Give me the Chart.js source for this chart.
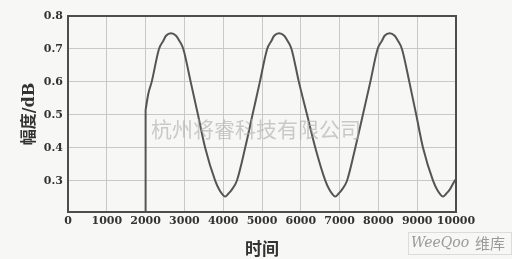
<!DOCTYPE html>
<html lang="zh">
<head>
    <meta charset="UTF-8">
    <title>幅度-时间</title>
    <script src="https://cdn.jsdelivr.net/npm/chart.js"></script>
    <style>
        body { margin: 0; background: #f7f7f5; }
        canvas { display: block; }
    </style>
</head>
<body>
    <canvas id="waveChart" width="512" height="259"></canvas>

    <script>
        // 读自原图的曲线点 (时间, 幅度/dB)
        const timePoints = [2000, 2000, 2070, 2157, 2345, 2457, 2526, 2655, 2785, 2869, 2972, 3162, 3350, 3535, 3793, 3896, 3965, 4050, 4136, 4223, 4352, 4566, 4755, 4945, 5133, 5245, 5313, 5443, 5573, 5657, 5760, 5950, 6162, 6374, 6632, 6735, 6804, 6889, 6975, 7062, 7191, 7405, 7600, 7792, 7980, 8092, 8160, 8290, 8420, 8504, 8607, 8797, 8975, 9150, 9408, 9511, 9580, 9665, 9751, 9838, 9967, 10000];
        const amplitude = [0.205, 0.515, 0.564, 0.60, 0.70, 0.725, 0.740, 0.748, 0.740, 0.725, 0.70, 0.60, 0.50, 0.40, 0.30, 0.273, 0.261, 0.252, 0.261, 0.273, 0.30, 0.40, 0.50, 0.60, 0.70, 0.725, 0.740, 0.748, 0.740, 0.725, 0.70, 0.60, 0.50, 0.40, 0.30, 0.273, 0.261, 0.252, 0.261, 0.273, 0.30, 0.40, 0.50, 0.60, 0.70, 0.725, 0.740, 0.748, 0.740, 0.725, 0.70, 0.60, 0.50, 0.40, 0.30, 0.273, 0.261, 0.252, 0.261, 0.273, 0.30, 0.305];

        const xTicks = [0, 1000, 2000, 3000, 4000, 5000, 6000, 7000, 8000, 9000, 10000];
        const yTicks = [0.3, 0.4, 0.5, 0.6, 0.7, 0.8];

        const xTitle = '时间';
        const yTitle = '幅度/dB';
        const watermark = '杭州将睿科技有限公司';
        const logoLatin = 'WeeQoo';
        const logoCjk = '维库';

        const tickFont = { family: '"DejaVu Serif", serif', size: 11, weight: 'bold' };

        const points = timePoints.map((t, i) => ({ x: t, y: amplitude[i] }));

        // 边框 + 水印
        const framePlugin = {
            id: 'frame',
            afterDraw(chart) {
                const ctx = chart.ctx;
                const a = chart.chartArea;
                ctx.save();
                ctx.strokeStyle = '#4d4d4d';
                ctx.lineWidth = 2;
                ctx.strokeRect(a.left, a.top, a.right - a.left, a.bottom - a.top);

                ctx.fillStyle = 'rgba(170,170,170,0.6)';
                ctx.font = '21px "Noto Sans CJK SC"';
                ctx.textAlign = 'center';
                ctx.textBaseline = 'middle';
                ctx.fillText(watermark, 256, 129);

                ctx.strokeStyle = '#dcdcdc';
                ctx.lineWidth = 1;
                ctx.strokeRect(408.5, 232.5, 103, 22);
                ctx.textAlign = 'left';
                ctx.fillStyle = '#9a9a9a';
                ctx.font = 'italic 14px "DejaVu Serif"';
                ctx.fillText(logoLatin, 411, 243);
                ctx.font = '15px "Noto Sans CJK SC"';
                ctx.fillText(logoCjk, 475, 243);
                ctx.restore();
            }
        };

        const ctx = document.getElementById('waveChart').getContext('2d');
        const waveChart = new Chart(ctx, {
            type: 'scatter',
            data: {
                datasets: [{
                    // 2000 处的竖直上升段
                    data: points.slice(0, 2),
                    showLine: true,
                    borderColor: '#555555',
                    borderWidth: 2,
                    pointRadius: 0,
                    tension: 0
                }, {
                    data: points.slice(1),
                    showLine: true,
                    borderColor: '#555555',
                    borderWidth: 2,
                    pointRadius: 0,
                    cubicInterpolationMode: 'monotone'
                }]
            },
            options: {
                responsive: false,
                animation: false,
                layout: { padding: { top: 16, right: 56, left: 0, bottom: 0 } },
                plugins: {
                    legend: { display: false },
                    tooltip: { enabled: false }
                },
                scales: {
                    x: {
                        type: 'linear',
                        min: 0,
                        max: 10000,
                        afterBuildTicks: s => { s.ticks = xTicks.map(v => ({ value: v })); },
                        afterFit: s => { s.height = 47; },
                        grid: { color: '#c8c8c8', lineWidth: 1, drawTicks: false },
                        border: { display: false },
                        ticks: {
                            padding: 3,
                            color: '#333333',
                            font: tickFont,
                            autoSkip: false,
                            maxRotation: 0,
                            callback: v => String(v)
                        },
                        title: {
                            display: true,
                            text: xTitle,
                            color: '#333333',
                            font: { family: '"Noto Sans CJK SC"', size: 17, weight: 'bold' },
                            padding: { top: 4, bottom: 0 }
                        }
                    },
                    y: {
                        min: 0.205,
                        max: 0.8,
                        afterBuildTicks: s => { s.ticks = yTicks.map(v => ({ value: v })); },
                        afterFit: s => { s.width = 68; },
                        grid: { color: '#c8c8c8', lineWidth: 1, drawTicks: false },
                        border: { display: false },
                        ticks: {
                            padding: 5,
                            color: '#333333',
                            font: tickFont,
                            callback: v => v.toFixed(1)
                        },
                        title: {
                            display: true,
                            text: yTitle,
                            color: '#333333',
                            font: { family: '"DejaVu Serif", "Noto Sans CJK SC"', size: 16, weight: 'bold' },
                            padding: { top: 20, bottom: 0 }
                        }
                    }
                }
            },
            plugins: [framePlugin]
        });
    </script>
</body>
</html>
